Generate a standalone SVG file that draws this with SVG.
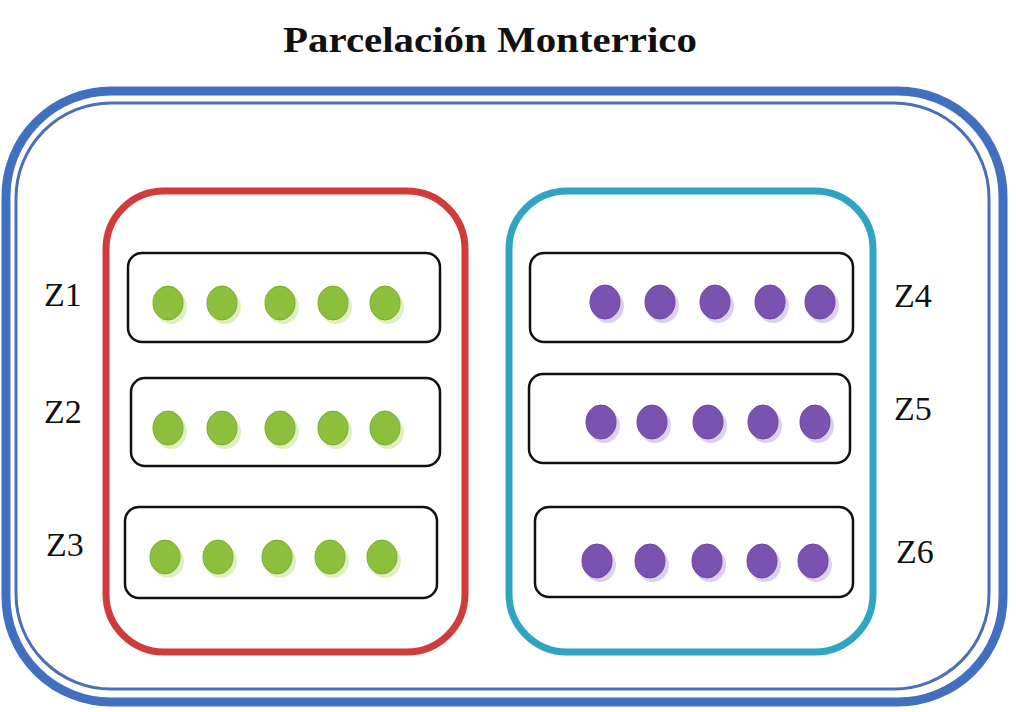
<svg xmlns="http://www.w3.org/2000/svg" width="1016" height="712" viewBox="0 0 1016 712">
<defs>
<style>
.lbl{font-family:"Liberation Serif",serif;font-size:34px;fill:#111}
.row{fill:#fff;stroke:#111;stroke-width:2.5}
.g{fill:#8cbf3c;stroke:#7aab30;stroke-width:1}
.gs{fill:#dff0c0}
.p{fill:#7c52b0;stroke:#6d45a0;stroke-width:1}
.ps{fill:#dcd0ee}
</style>
<g id="gdot"><ellipse class="gs" cx="3" cy="4" rx="16" ry="17"/><ellipse class="g" cx="0" cy="0" rx="15" ry="17"/></g>
<g id="pdot"><ellipse class="ps" cx="3" cy="4" rx="16" ry="17"/><ellipse class="p" cx="0" cy="0" rx="15" ry="17"/></g>
</defs>
<rect width="1016" height="712" fill="#fff"/>
<g id="title"><text x="490" y="52" text-anchor="middle" textLength="414" lengthAdjust="spacingAndGlyphs" style="font-family:'Liberation Serif',serif;font-size:36px;font-weight:bold;fill:#111">Parcelación Monterrico</text></g>
<g id="outer">
<rect x="6" y="91" width="997" height="611" rx="105" fill="none" stroke="#4270c0" stroke-width="9"/>
<rect x="16" y="103" width="973" height="586" rx="95" fill="none" stroke="#4a6fb8" stroke-width="3"/>
</g>
<g id="red-group"><rect x="106" y="191" width="359" height="461" rx="58" fill="none" stroke="#d03b3b" stroke-width="7"/></g>
<g id="teal-group"><rect x="509" y="191" width="364" height="461" rx="58" fill="none" stroke="#2fa5c2" stroke-width="7"/></g>
<g id="Z1">
<rect class="row" x="128" y="253" width="312" height="89" rx="14"/>
<use href="#gdot" x="168" y="303"/><use href="#gdot" x="222" y="303"/><use href="#gdot" x="280" y="303"/><use href="#gdot" x="333" y="303"/><use href="#gdot" x="385" y="303"/>
<text class="lbl" x="44" y="306">Z1</text>
</g>
<g id="Z2">
<rect class="row" x="131" y="378" width="309" height="88" rx="14"/>
<use href="#gdot" x="168" y="428"/><use href="#gdot" x="222" y="428"/><use href="#gdot" x="280" y="428"/><use href="#gdot" x="333" y="428"/><use href="#gdot" x="385" y="428"/>
<text class="lbl" x="44" y="423">Z2</text>
</g>
<g id="Z3">
<rect class="row" x="125" y="507" width="312" height="91" rx="14"/>
<use href="#gdot" x="165" y="557"/><use href="#gdot" x="218" y="557"/><use href="#gdot" x="277" y="557"/><use href="#gdot" x="330" y="557"/><use href="#gdot" x="382" y="557"/>
<text class="lbl" x="46" y="556">Z3</text>
</g>
<g id="Z4">
<rect class="row" x="530" y="253" width="323" height="89" rx="14"/>
<use href="#pdot" x="605" y="302"/><use href="#pdot" x="660" y="302"/><use href="#pdot" x="715" y="302"/><use href="#pdot" x="770" y="302"/><use href="#pdot" x="820" y="302"/>
<text class="lbl" x="894" y="307">Z4</text>
</g>
<g id="Z5">
<rect class="row" x="529" y="374" width="321" height="89" rx="14"/>
<use href="#pdot" x="601" y="422"/><use href="#pdot" x="652" y="422"/><use href="#pdot" x="708" y="422"/><use href="#pdot" x="763" y="422"/><use href="#pdot" x="815" y="422"/>
<text class="lbl" x="894" y="420">Z5</text>
</g>
<g id="Z6">
<rect class="row" x="535" y="507" width="318" height="90" rx="14"/>
<use href="#pdot" x="597" y="561"/><use href="#pdot" x="650" y="561"/><use href="#pdot" x="707" y="561"/><use href="#pdot" x="762" y="561"/><use href="#pdot" x="813" y="561"/>
<text class="lbl" x="896" y="563">Z6</text>
</g>
<g id="connectors"/>
</svg>
